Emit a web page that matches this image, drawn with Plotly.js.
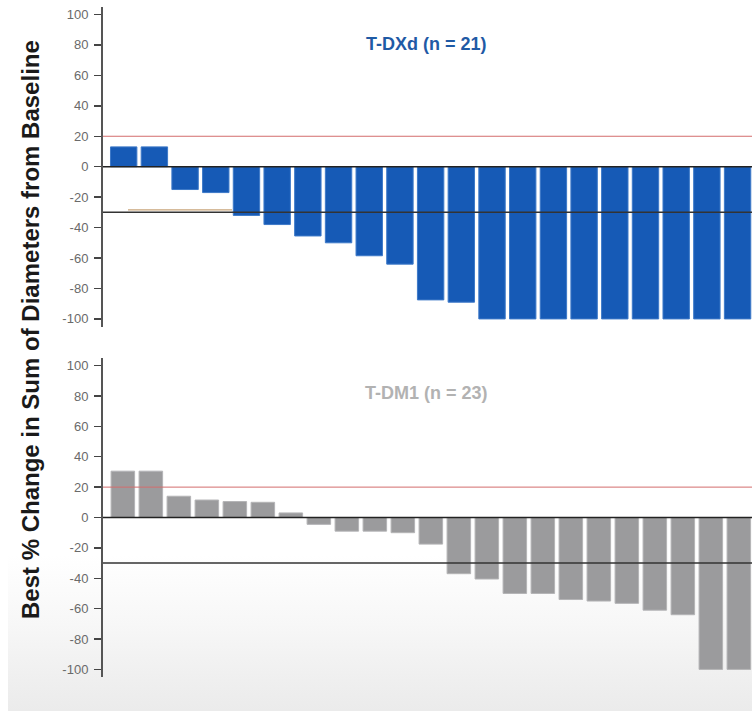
<!DOCTYPE html>
<html>
<head>
<meta charset="utf-8">
<script src="https://cdn.plot.ly/plotly-3.0.1.min.js"></script>
<style>
  html, body { margin: 0; padding: 0; background: #ffffff; }
  #wrap { position: relative; width: 752px; height: 711px; overflow: hidden; }
  #bg { position: absolute; left: 8px; top: 0; width: 744px; height: 711px;
        background: linear-gradient(to bottom, #ffffff 0px, #ffffff 555px, #f7f7f7 625px, #efefef 680px, #ebebeb 711px); }
  #chart { position: absolute; left: 0; top: 0; width: 752px; height: 711px; }
</style>
</head>
<body>
<div id="wrap"><div id="bg"></div><div id="chart"></div></div>
<script>
// ---- data ----
const tdxdPatients = ['1','2','3','4','5','6','7','8','9','10','11','12','13','14','15','16','17','18','19','20','21'];
const tdxdValues   = [13, 13, -15, -17, -32, -38, -45.5, -50, -58.5, -64, -87.5, -89, -100, -100, -100, -100, -100, -100, -100, -100, -100];

const tdm1Patients = ['1','2','3','4','5','6','7','8','9','10','11','12','13','14','15','16','17','18','19','20','21','22','23'];
const tdm1Values   = [30.5, 30.5, 14, 11.5, 10.5, 10, 3, -4.5, -9, -9, -10, -17.5, -37, -40.5, -50, -50, -54, -55, -56.5, -61, -64, -100, -100];

const tickVals   = [100, 80, 60, 40, 20, 0, -20, -40, -60, -80, -100];
const tickLabels = ['100', '80', '60', '40', '20', '0', '-20', '-40', '-60', '-80', '-100'];

const progressionLine = 20;   // red reference line
const responseLine = -30;     // black reference line

const panelTitles = ['T-DXd (n = 21)', 'T-DM1 (n = 23)'];
const yTitle = 'Best % Change in Sum of Diameters from Baseline';

// ---- figure ----
const W = 752, H = 711;
const topDomain = [1 - 327 / H, 1 - 7 / H];
const botDomain = [1 - 677 / H, 1 - 358 / H];

const traces = [
  { type: 'bar', x: tdxdPatients, y: tdxdValues, xaxis: 'x', yaxis: 'y', width: 0.86,
    marker: { color: '#165ab6', line: { color: '#3d79c8', width: 1 } }, hoverinfo: 'y' },
  { type: 'bar', x: tdm1Patients, y: tdm1Values, xaxis: 'x2', yaxis: 'y2', width: 0.84,
    marker: { color: '#9b9b9d', line: { color: '#b4b4b6', width: 1 } }, hoverinfo: 'y' }
];

const yAxisStyle = {
  tickmode: 'array', tickvals: tickVals, ticktext: tickLabels,
  ticks: 'outside', ticklen: 7, tickwidth: 1.5, tickcolor: '#444',
  showline: true, linecolor: '#555', linewidth: 2,
  showgrid: false, zeroline: false,
  tickfont: { family: 'Liberation Sans, Arial, sans-serif', size: 13, color: '#6a6a6a' },
  ticklabelstandoff: 3
};
const xAxisStyle = { showline: false, showticklabels: false, showgrid: false, zeroline: false, ticks: '', type: 'category' };

function hline(xref, yref, y, color, width) {
  return { type: 'line', xref: xref + ' domain', yref: yref, x0: 0, x1: 1, y0: y, y1: y,
           line: { color: color, width: width }, layer: 'above' };
}

const layout = {
  width: W, height: H,
  margin: { l: 103, r: 0, t: 0, b: 0, pad: 0 },
  paper_bgcolor: 'rgba(0,0,0,0)', plot_bgcolor: 'rgba(0,0,0,0)',
  showlegend: false,
  xaxis:  Object.assign({}, xAxisStyle, { domain: [0, 1], range: [-0.674, 20.47], anchor: 'y' }),
  xaxis2: Object.assign({}, xAxisStyle, { domain: [0, 1], range: [-0.709, 22.47], anchor: 'y2' }),
  yaxis:  Object.assign({}, yAxisStyle, { domain: topDomain, range: [-105.3, 104.9], anchor: 'x' }),
  yaxis2: Object.assign({}, yAxisStyle, { domain: botDomain, range: [-105, 105], anchor: 'x2' }),
  shapes: [
    hline('x', 'y', 0, '#222', 1.5),
    hline('x', 'y', responseLine, '#333', 1.5),
    hline('x', 'y', progressionLine, '#d36c6c', 1),
    { type: 'line', xref: 'x', yref: 'y', x0: 0.14, x1: 3.53, y0: -28.4, y1: -28.4,
      line: { color: '#c9a57a', width: 1.2 }, layer: 'above' },
    hline('x2', 'y2', 0, '#222', 1.5),
    hline('x2', 'y2', responseLine, '#333', 1.5),
    hline('x2', 'y2', progressionLine, '#d36c6c', 1)
  ],
  annotations: [
    { text: '<b>' + panelTitles[0] + '</b>', xref: 'paper', yref: 'paper',
      x: (426 - 103) / 649, y: 1 - 44 / H, showarrow: false, xanchor: 'center', yanchor: 'middle',
      font: { family: 'Liberation Sans, Arial, sans-serif', size: 18, color: '#1f5aa5' } },
    { text: '<b>' + panelTitles[1] + '</b>', xref: 'paper', yref: 'paper',
      x: (426 - 103) / 649, y: 1 - 393 / H, showarrow: false, xanchor: 'center', yanchor: 'middle',
      font: { family: 'Liberation Sans, Arial, sans-serif', size: 18, color: '#b2b2b2' } },
    { text: '<b>' + yTitle + '</b>', xref: 'paper', yref: 'paper', textangle: -90,
      x: (30 - 103) / 649, y: 1 - 330 / H, showarrow: false, xanchor: 'center', yanchor: 'middle',
      font: { family: 'Liberation Sans, Arial, sans-serif', size: 24, color: '#1a1a1a' } }
  ]
};

Plotly.newPlot('chart', traces, layout, { displayModeBar: false, staticPlot: true });
</script>
</body>
</html>
